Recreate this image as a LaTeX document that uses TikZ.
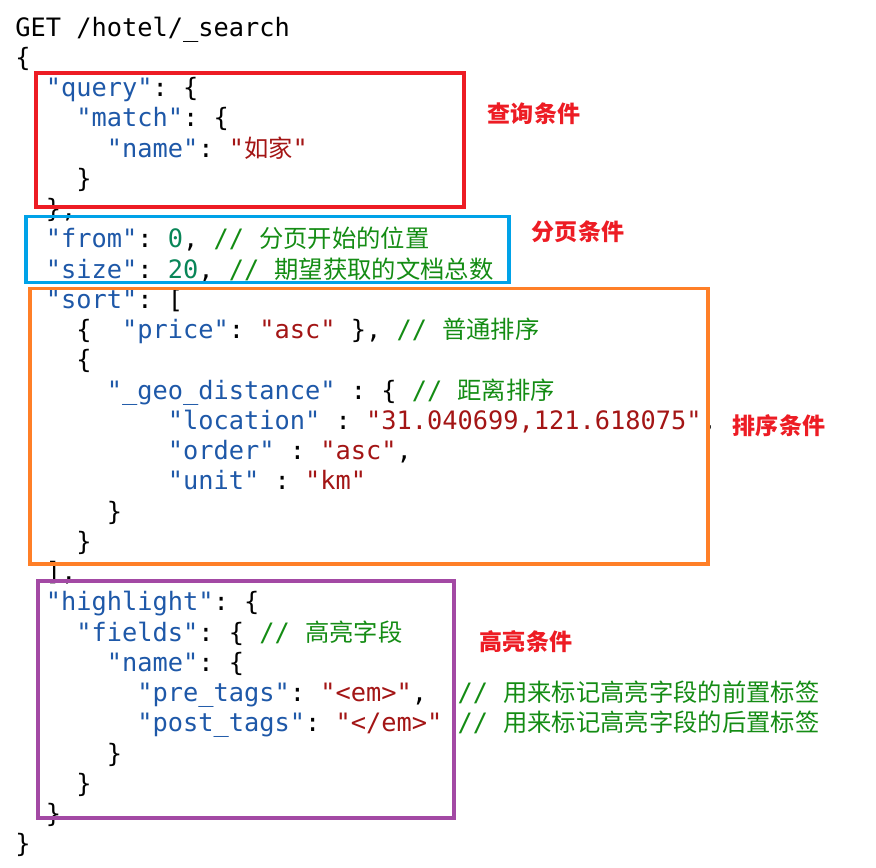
\documentclass[tikz,border=0pt]{standalone}
\usepackage{fontspec}
\setmonofont{DejaVu Sans Mono}
\newfontfamily\cjk[Scale=0.96]{Noto Sans CJK SC}
\frenchspacing

\definecolor{keyblue}{RGB}{30,88,168}
\definecolor{strred}{RGB}{163,21,21}
\definecolor{numgreen}{RGB}{9,134,88}
\definecolor{comgreen}{RGB}{20,140,20}
\definecolor{labelred}{RGB}{237,28,36}
\definecolor{boxred}{RGB}{237,28,36}
\definecolor{boxblue}{RGB}{0,162,232}
\definecolor{boxorange}{RGB}{255,127,39}
\definecolor{boxpurple}{RGB}{163,73,164}

\newcommand\keytxt[1]{\textcolor{keyblue}{#1}}
\newcommand\strtxt[1]{\textcolor{strred}{#1}}
\newcommand\numtxt[1]{\textcolor{numgreen}{#1}}
\newcommand\comtxt[1]{\textcolor{comgreen}{#1}}

\begin{document}
\begin{tikzpicture}[x=0.75pt,y=-0.75pt,
    code line/.style={anchor=base west,inner sep=0pt,font=\ttfamily\fontsize{19}{22}\selectfont},
    cond box/.style={draw=#1,line width=2.3pt},
    cond label/.style={text=labelred,inner sep=0pt,font=\cjk\bfseries\fontsize{18}{20}\selectfont}]
    \useasboundingbox (0,0) rectangle (876,868);
    % code lines
    \node[code line] (l0) at (15,36) {GET /hotel/\_search};
    \node[code line] (l1) at (15,66.25) {\{};
    \node[code line] (l2) at (45.5,96.5) {\keytxt{"query"}: \{};
    \node[code line] (l3) at (76,126.75) {\keytxt{"match"}: \{};
    \node[code line] (l4) at (106.5,157) {\keytxt{"name"}: \strtxt{"{\cjk 如家}"}};
    \node[code line] (l5) at (76,187.25) {\}};
    \node[code line] (l6) at (45.5,217.5) {\},};
    \node[code line] (l7) at (45.5,247.75) {\keytxt{"from"}: \numtxt{0}, \comtxt{// {\cjk 分页开始的位置}}};
    \node[code line] (l8) at (45.5,278) {\keytxt{"size"}: \numtxt{20}, \comtxt{// {\cjk 期望获取的文档总数}}};
    \node[code line] (l9) at (45.5,308.25) {\keytxt{"sort"}: [};
    \node[code line] (l10) at (76,338.5) {\{~~\keytxt{"price"}: \strtxt{"asc"} \}, \comtxt{// {\cjk 普通排序}}};
    \node[code line] (l11) at (76,368.75) {\{};
    \node[code line] (l12) at (106.5,399) {\keytxt{"\_geo\_distance"} : \{ \comtxt{// {\cjk 距离排序}}};
    \node[code line] (l13) at (167.5,429.25) {\keytxt{"location"} : \strtxt{"31.040699,121.618075"},};
    \node[code line] (l14) at (167.5,459.5) {\keytxt{"order"} : \strtxt{"asc"},};
    \node[code line] (l15) at (167.5,489.75) {\keytxt{"unit"} : \strtxt{"km"}};
    \node[code line] (l16) at (106.5,520) {\}};
    \node[code line] (l17) at (76,550.25) {\}};
    \node[code line] (l18) at (45.5,580.5) {],};
    \node[code line] (l19) at (45.5,610.75) {\keytxt{"highlight"}: \{};
    \node[code line] (l20) at (76,641) {\keytxt{"fields"}: \{ \comtxt{// {\cjk 高亮字段}}};
    \node[code line] (l21) at (106.5,671.25) {\keytxt{"name"}: \{};
    \node[code line] (l22) at (137,701.5) {\keytxt{"pre\_tags"}: \strtxt{"<em>"},~~\comtxt{// {\cjk 用来标记高亮字段的前置标签}}};
    \node[code line] (l23) at (137,731.75) {\keytxt{"post\_tags"}: \strtxt{"</em>"} \comtxt{// {\cjk 用来标记高亮字段的后置标签}}};
    \node[code line] (l24) at (106.5,762) {\}};
    \node[code line] (l25) at (76,792.25) {\}};
    \node[code line] (l26) at (45.5,822.5) {\}};
    \node[code line] (l27) at (15,852.75) {\}};
    % boxes
    \draw[cond box=boxred] (36,73) rectangle (464,207);
    \draw[cond box=boxblue] (26,216.5) rectangle (509,282.5);
    \draw[cond box=boxorange] (30,288.5) rectangle (708,564);
    \draw[cond box=boxpurple] (38,581) rectangle (454,818);
    % labels
    \node[cond label] (query) at (534,114) {查询条件};
    \node[cond label] (page) at (578,232) {分页条件};
    \node[cond label] (sort) at (779,426) {排序条件};
    \node[cond label] (high) at (526,642) {高亮条件};
\end{tikzpicture}
\end{document}
